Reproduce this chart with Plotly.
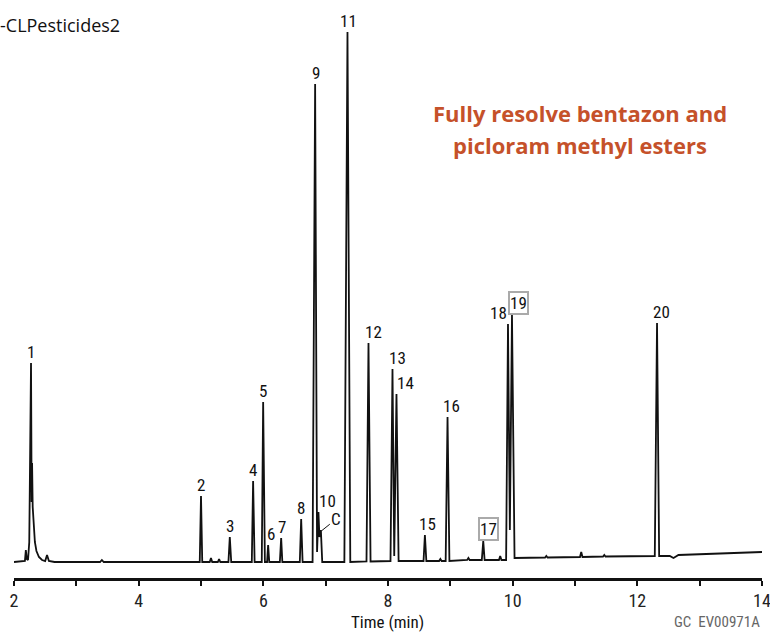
import plotly.graph_objects as go

# ---- chromatogram trace (time in min, detector signal in arbitrary units above the t=2 baseline) ----
trace_time = [
    2.00, 2.15, 2.175, 2.19, 2.205, 2.225, 2.245, 2.273, 2.283, 2.29, 2.30, 2.315, 2.335, 2.36, 2.40, 2.45, 2.50, 2.53, 2.56, 2.65,
    3.38, 3.41, 3.44,
    4.98, 5.00, 5.02, 5.14, 5.16, 5.18, 5.27, 5.29, 5.31,
    5.44, 5.462, 5.485,
    5.815, 5.836, 5.86,
    5.975, 5.997, 6.025, 6.06, 6.077, 6.095,
    6.265, 6.286, 6.305,
    6.585, 6.607, 6.63,
    6.79, 6.831, 6.862, 6.884, 6.90, 6.923, 6.945,
    7.30, 7.350, 7.395,
    7.655, 7.687, 7.72,
    8.04, 8.072, 8.10, 8.136, 8.17,
    8.57, 8.592, 8.615, 8.82, 8.84, 8.86,
    8.925, 8.955, 8.985,
    9.27, 9.29, 9.31,
    9.505, 9.528, 9.55,
    9.78, 9.80, 9.82,
    9.895, 9.925, 9.955, 9.989, 10.03,
    10.52, 10.54, 10.56,
    11.08, 11.10, 11.12,
    11.45, 11.47, 11.49,
    12.28, 12.316, 12.35,
    12.52, 12.58, 12.66, 14.00,
]
trace_signal = [
    0, 0.5, 1, 12, 3, 2, 20, 199, 60, 99, 55, 35, 20, 11, 5, 2, 1, 7, 1, 0,
    0, 2, 0,
    0, 66, 0, 0, 4, 0, 0, 3, 0,
    0, 25, 0,
    0, 81, 0,
    0, 160, 0, 0, 17, 0,
    0, 24, 0,
    0, 43, 0,
    0, 478, 10, 50, 25, 32, 0,
    0, 530, 0,
    0.5, 219, 0.5,
    1, 193, 6, 168, 1,
    1, 27, 1, 1, 3, 1,
    1, 145, 1,
    2, 4, 2,
    2, 21, 2,
    2, 6, 2,
    2, 238, 32, 247, 4,
    4.5, 6, 4.5,
    5, 10, 5,
    5.5, 7, 5.5,
    6, 239, 6,
    6, 4, 7, 10,
]

# ---- peak identification labels ----
peak_names = ["1", "2", "3", "4", "5", "6", "7", "8", "9", "10", "11", "12", "13", "14", "15", "16", "17", "18", "19", "20"]
peak_times = [2.273, 5.00, 5.462, 5.836, 5.997, 6.077, 6.286, 6.607, 6.831, 6.884, 7.350, 7.687, 8.072, 8.136, 8.592, 8.955, 9.528, 9.925, 9.989, 12.316]
peak_heights = [199, 66, 25, 81, 160, 17, 24, 43, 478, 50, 530, 219, 193, 168, 27, 145, 21, 238, 247, 239]
boxed_peaks = ["17", "19"]
# label style offsets (pixels)
label_xshift = [0, 0, 0, 0, 0, 3, 1, 0, 1, 9, 1, 5, 5, 9, 3, 4, 5, -9, 7, 4]

coelution_label = "C"
coelution_time = 6.93
coelution_height = 31

x_tick_values = [2, 3, 4, 5, 6, 7, 8, 9, 10, 11, 12, 13, 14]
x_tick_text = ["2", "", "4", "", "6", "", "8", "", "10", "", "12", "", "14"]

column_name = "-CLPesticides2"
callout_lines = ["Fully resolve bentazon and", "picloram methyl esters"]
axis_title = "Time (min)"
figure_code = "GC  EV00971A"

NARROW = "Liberation Sans Narrow, Roboto Condensed, Arial Narrow, sans-serif"

fig = go.Figure()
fig.add_trace(go.Scatter(
    x=trace_time, y=trace_signal, mode="lines",
    line=dict(color="#111111", width=1.8), hoverinfo="skip", showlegend=False,
))

for name, t, h, dx in zip(peak_names, peak_times, peak_heights, label_xshift):
    boxed = name in boxed_peaks
    fig.add_annotation(
        x=t, y=h, text=name, showarrow=False,
        xanchor="center", yanchor="bottom", xshift=dx, yshift=0 if boxed else 1,
        font=dict(family=NARROW, size=17, color="#111111"),
        bordercolor="#aaaaaa" if boxed else "rgba(0,0,0,0)",
        borderwidth=2 if boxed else 0, borderpad=0,
    )

fig.add_annotation(
    x=coelution_time, y=coelution_height, text=coelution_label,
    showarrow=True, arrowhead=0, arrowwidth=1, arrowcolor="#111111",
    ax=15, ay=-12, standoff=0, startstandoff=0,
    font=dict(family=NARROW, size=17, color="#111111"),
)

fig.add_annotation(
    x=0, y=1, xref="paper", yref="paper", text=column_name, showarrow=False,
    xanchor="left", yanchor="middle", xshift=-16, yshift=-15,
    font=dict(family="Open Sans, sans-serif", size=18, color="#111111"),
)
for i, line in enumerate(callout_lines):
    fig.add_annotation(
        x=0.757, y=1, xref="paper", yref="paper", showarrow=False,
        text=line, xanchor="center", yanchor="middle", yshift=-103 - 32 * i,
        font=dict(family="Open Sans, sans-serif", size=22, color="#c5512a", weight="bold"),
    )
fig.add_annotation(
    x=0.5, y=0, xref="paper", yref="paper", text=axis_title, showarrow=False,
    xanchor="center", yanchor="middle", yshift=-44, xshift=-1,
    font=dict(family=NARROW, size=17, color="#111111"),
)
fig.add_annotation(
    x=1, y=0, xref="paper", yref="paper", text=figure_code, showarrow=False,
    xanchor="right", yanchor="middle", xshift=0, yshift=-44,
    font=dict(family=NARROW, size=15, color="#666666"),
)

fig.update_layout(
    width=770, height=633,
    margin=dict(l=14, r=8, t=10, b=55, autoexpand=False),
    paper_bgcolor="white", plot_bgcolor="white",
    showlegend=False,
    xaxis=dict(
        range=[2, 14], tickvals=x_tick_values, ticktext=x_tick_text,
        showline=True, linecolor="#111111", linewidth=2.5,
        ticks="outside", ticklen=5, tickwidth=2, tickcolor="#111111",
        showgrid=False, zeroline=False, ticklabeloverflow="allow", automargin=False,
        tickfont=dict(family=NARROW, size=18, color="#222222"),
    ),
    yaxis=dict(range=[-16, 552], visible=False, showgrid=False, zeroline=False, automargin=False),
)

fig.write_html(
    "out.html",
    config={"displayModeBar": False},
    post_script="document.body.style.margin='0';document.body.style.overflow='hidden';",
)
